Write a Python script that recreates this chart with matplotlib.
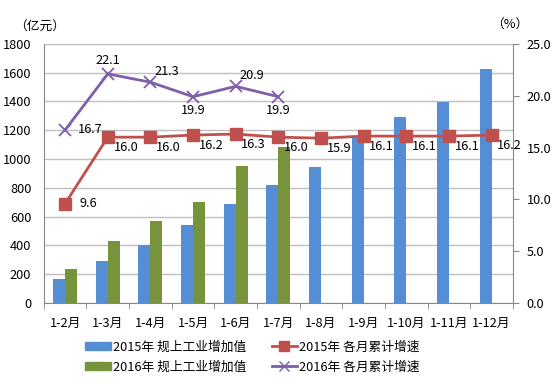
import numpy as np
import matplotlib
matplotlib.use('Agg')
import matplotlib.pyplot as plt
from matplotlib.lines import Line2D
from matplotlib.patches import Patch

plt.rcParams['font.family'] = ['Noto Sans CJK SC', 'DejaVu Sans']

# 数据
months = ['1-2月', '1-3月', '1-4月', '1-5月', '1-6月', '1-7月', '1-8月',
          '1-9月', '1-10月', '1-11月', '1-12月']
value_2015 = [165, 294, 403, 542, 688, 818, 947, 1160, 1290, 1399, 1624]
value_2016 = [236, 431, 570, 700, 954, 1082]
growth_2015 = [9.6, 16.0, 16.0, 16.2, 16.3, 16.0, 15.9, 16.1, 16.1, 16.1, 16.2]
growth_2016 = [16.7, 22.1, 21.3, 19.9, 20.9, 19.9]

c_blue = '#558ED5'
c_green = '#77933C'
c_red = '#C0504D'
c_purple = '#7F5FA8'
fs = 9.2

fig = plt.figure(figsize=(5.55, 3.88), dpi=100)
ax = fig.add_axes([0.079, 0.219, 0.845, 0.668])
x = np.arange(len(months))
w = 0.28
ax.bar(x[:len(value_2015)] - w / 2, value_2015, w, color=c_blue, zorder=2)
ax.bar(x[:len(value_2016)] + w / 2, value_2016, w, color=c_green, zorder=2)
ax.set_ylim(0, 1800)
ax.set_yticks(range(0, 1801, 200))
ax.set_xlim(-0.5, len(months) - 0.5)
ax.set_xticks(x)
ax.set_xticklabels(months, fontsize=fs)
ax.set_xticks(np.arange(-0.5, len(months)), minor=True)
ax.tick_params(axis='x', which='major', length=0, pad=10)
ax.tick_params(axis='x', which='minor', length=4, color='#888888', direction='out')
ax.tick_params(axis='y', length=0, labelsize=fs, pad=9)
ax.grid(axis='y', color='#BFBFBF', linewidth=1, zorder=0)
for s in ['top', 'right']:
    ax.spines[s].set_visible(False)
ax.spines['left'].set_color('#888888')
ax.spines['bottom'].set_color('#888888')

ax2 = ax.twinx()
ax2.set_ylim(0, 25)
ax2.set_yticks(np.arange(0, 25.1, 5))
ax2.set_yticklabels([f'{v:.1f}' for v in np.arange(0, 25.1, 5)], fontsize=fs)
ax2.tick_params(axis='y', length=4, color='#888888', direction='out', pad=6)
for s in ['top', 'left', 'bottom']:
    ax2.spines[s].set_visible(False)
ax2.spines['right'].set_color('#888888')

ax2.plot(x[:len(growth_2015)], growth_2015, color=c_red, lw=2, marker='s',
         markersize=8, zorder=4)
ax2.plot(x[:len(growth_2016)], growth_2016, color=c_purple, lw=2, marker='x',
         markersize=8, markeredgewidth=1.3, zorder=4)

for i, v in enumerate(growth_2015):
    if i == 0:
        ax2.annotate(f'{v:.1f}', (x[i], v), xytext=(10, 0), textcoords='offset points',
                     va='center', ha='left', fontsize=fs)
    else:
        ax2.annotate(f'{v:.1f}', (x[i], v), xytext=(4, -3), textcoords='offset points',
                     va='top', ha='left', fontsize=fs)

offs_2016 = [(9, 0, 'left', 'center'), (0, 5, 'center', 'bottom'),
             (3, 3, 'left', 'bottom'), (0, -5, 'center', 'top'),
             (3, 3, 'left', 'bottom'), (0, -5, 'center', 'top')]
for i, v in enumerate(growth_2016):
    dx, dy, ha, va = offs_2016[i]
    ax2.annotate(f'{v:.1f}', (x[i], v), xytext=(dx, dy), textcoords='offset points',
                 va=va, ha=ha, fontsize=fs)

fig.text(0.025, 0.93, '（亿元）', fontsize=fs, ha='left', va='center')
fig.text(0.885, 0.935, '（%）', fontsize=fs, ha='left', va='center')

handles = [Patch(color=c_blue, label='2015年 规上工业增加值'),
           Patch(color=c_green, label='2016年 规上工业增加值'),
           Line2D([0], [0], color=c_red, lw=2, marker='s', markersize=7,
                  label='2015年 各月累计增速'),
           Line2D([0], [0], color=c_purple, lw=2, marker='x', markersize=7,
                  label='2016年 各月累计增速')]
fig.legend(handles=handles, loc='center', bbox_to_anchor=(0.455, 0.08), ncol=2,
           frameon=False, fontsize=fs, handlelength=2.0, handleheight=0.7,
           columnspacing=2.0, labelspacing=0.55, handletextpad=0.15)

fig.savefig('out.png', dpi=100)
